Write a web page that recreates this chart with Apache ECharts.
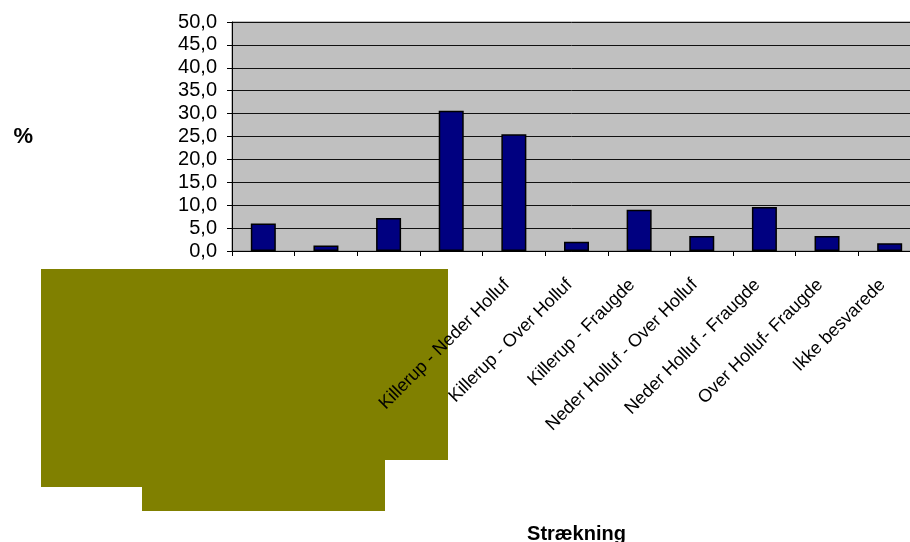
<!DOCTYPE html>
<html>
<head>
<meta charset="utf-8">
<script src="https://cdn.jsdelivr.net/npm/echarts@6/dist/echarts.min.js"></script>
<style>
  html, body { margin: 0; padding: 0; background: #fff; }
  #chart { width: 910px; height: 542px; }
</style>
</head>
<body>
<div id="chart"></div>
<script>
// Route categories (the first four labels are hidden by the overlay block)
const categories = [
  '', '', '', '',
  'Killerup - Neder Holluf',
  'Killerup - Over Holluf',
  'Killerup - Fraugde',
  'Neder Holluf - Over Holluf',
  'Neder Holluf - Fraugde',
  'Over Holluf- Fraugde',
  'Ikke besvarede'
];
// Share of answers, in percent
const percentValues = [6.0, 1.2, 7.2, 30.6, 25.5, 2.0, 9.0, 3.3, 9.6, 3.3, 1.7];
const yTicks = { min: 0, max: 50, step: 5 };

const FONT = '"Liberation Sans", Arial, sans-serif';
const chart = echarts.init(document.getElementById('chart'));

chart.setOption({
  animation: false,
  backgroundColor: '#ffffff',
  grid: {
    left: 232, top: 22, right: -11, bottom: 291,
    containLabel: false, outerBoundsMode: 'none',
    show: true, backgroundColor: '#c0c0c0', borderColor: '#808080', borderWidth: 1
  },
  xAxis: {
    type: 'category',
    data: categories,
    boundaryGap: true,
    axisLine: { lineStyle: { color: '#000', width: 1 } },
    axisTick: { show: true, interval: 0, length: 5, alignWithLabel: false, lineStyle: { color: '#000' } },
    axisLabel: {
      interval: 0, rotate: 45, margin: 24,
      align: 'right', verticalAlign: 'middle',
      padding: [0, 10, 0, 0],
      fontFamily: FONT, fontSize: 18, color: '#000'
    },
    name: 'Strækning',
    nameLocation: 'middle',
    nameGap: 273,
    nameTextStyle: { fontFamily: FONT, fontSize: 20, fontWeight: 'bold', color: '#000' }
  },
  yAxis: {
    type: 'value',
    min: yTicks.min, max: yTicks.max, interval: yTicks.step,
    axisLine: { show: true, lineStyle: { color: '#000', width: 1 } },
    axisTick: { show: true, length: 5, lineStyle: { color: '#000' } },
    axisLabel: {
      fontFamily: FONT, fontSize: 20, color: '#000', margin: 15,
      formatter: v => v.toFixed(1).replace('.', ',')
    },
    splitLine: { show: true, lineStyle: { color: '#111', width: 1 } },
    name: '%',
    nameLocation: 'middle',
    nameRotate: 0,
    nameGap: 199,
    nameTextStyle: { fontFamily: FONT, fontSize: 22, fontWeight: 'bold', color: '#000' }
  },
  series: [{
    type: 'bar',
    data: percentValues,
    barWidth: 25,
    itemStyle: { color: '#000080', borderColor: '#000', borderWidth: 1.5 },
    z: 3
  }],
  graphic: [{
    type: 'polygon',
    z: -5,
    silent: true,
    shape: {
      points: [[41, 269], [448, 269], [448, 460], [385, 460], [385, 511],
               [142, 511], [142, 487], [41, 487]]
    },
    style: { fill: '#808000' }
  }]
});
</script>
</body>
</html>
